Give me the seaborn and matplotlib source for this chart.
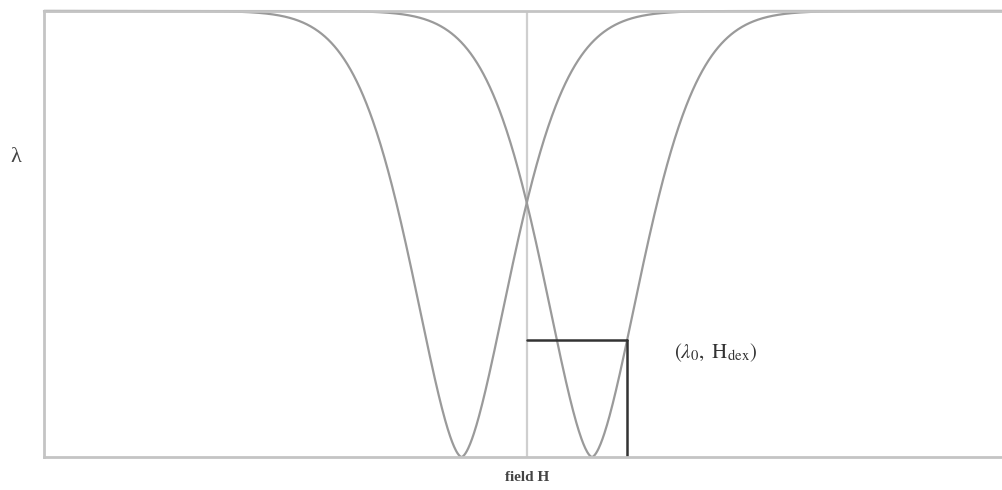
import numpy as np
import pandas as pd
import matplotlib
matplotlib.use("Agg")
import matplotlib.pyplot as plt
import seaborn as sns

# Schematic: two resonance dips in lambda versus applied field H
dip_names = ["branch -", "branch +"]
dip_centres = [-1.0, 1.0]      # field position of each minimum
dip_width = 1.108              # characteristic half-width of a dip
dip_shape = 1.65               # exponent of the dip profile
h_range = [-7.4, 7.3]          # plotted field window
h_dex = 1.54                   # field of the marked operating point
axis_label_x = "field H"
axis_label_y = "λ"
point_label = r"$(\lambda_{\mathrm{0}},\ \mathrm{H}_{\mathrm{dex}})$"

sns.set_theme(style="white")
plt.rcParams["font.family"] = ["Liberation Serif", "DejaVu Serif"]
plt.rcParams["mathtext.fontset"] = "stix"


def dip(h, centre):
    return 1.0 - np.exp(-(np.abs(h - centre) / dip_width) ** dip_shape)


field = np.linspace(h_range[0], h_range[1], 1500)
frames = [pd.DataFrame({"H": field, "lam": dip(field, c), "branch": n})
          for n, c in zip(dip_names, dip_centres)]
df = pd.concat(frames, ignore_index=True)

fig = plt.figure(figsize=(10.03, 4.90), dpi=100)
ax = fig.add_axes([44 / 1003, 33 / 490, 959 / 1003, 446 / 490])

sns.lineplot(data=df, x="H", y="lam", units="branch", estimator=None,
             color="#9a9a9a", lw=1.6, ax=ax, clip_on=False)

# symmetry axis at zero field
ax.axvline(0.0, color="#cfcfcf", lw=1.6, zorder=1)

# operating point on the upper branch
lam0 = dip(h_dex, dip_centres[1])
ax.plot([0.0, h_dex], [lam0, lam0], color="#333333", lw=1.8)
ax.plot([h_dex, h_dex], [0.0, lam0], color="#333333", lw=1.8)
ax.text(h_dex + 0.72, lam0 - 0.03, point_label, fontsize=15,
        color="#333333", va="center", ha="left")

ax.set_xlim(h_range)
ax.set_ylim(0.0, 1.0)
ax.set_xticks([])
ax.set_yticks([])
ax.set_xlabel("")
ax.set_ylabel("")
for side in ["left", "bottom", "top"]:
    ax.spines[side].set_color("#c4c4c4")
    ax.spines[side].set_linewidth(2.0)
ax.spines["right"].set_visible(False)

fig.text(527 / 1003, 1 - 477 / 490, axis_label_x, fontsize=11,
         ha="center", va="center", color="#444444", fontweight="bold")
fig.text(16 / 1003, 1 - 157 / 490, axis_label_y, fontsize=16,
         ha="center", va="center", color="#444444")

fig.savefig("out.png", dpi=100)
